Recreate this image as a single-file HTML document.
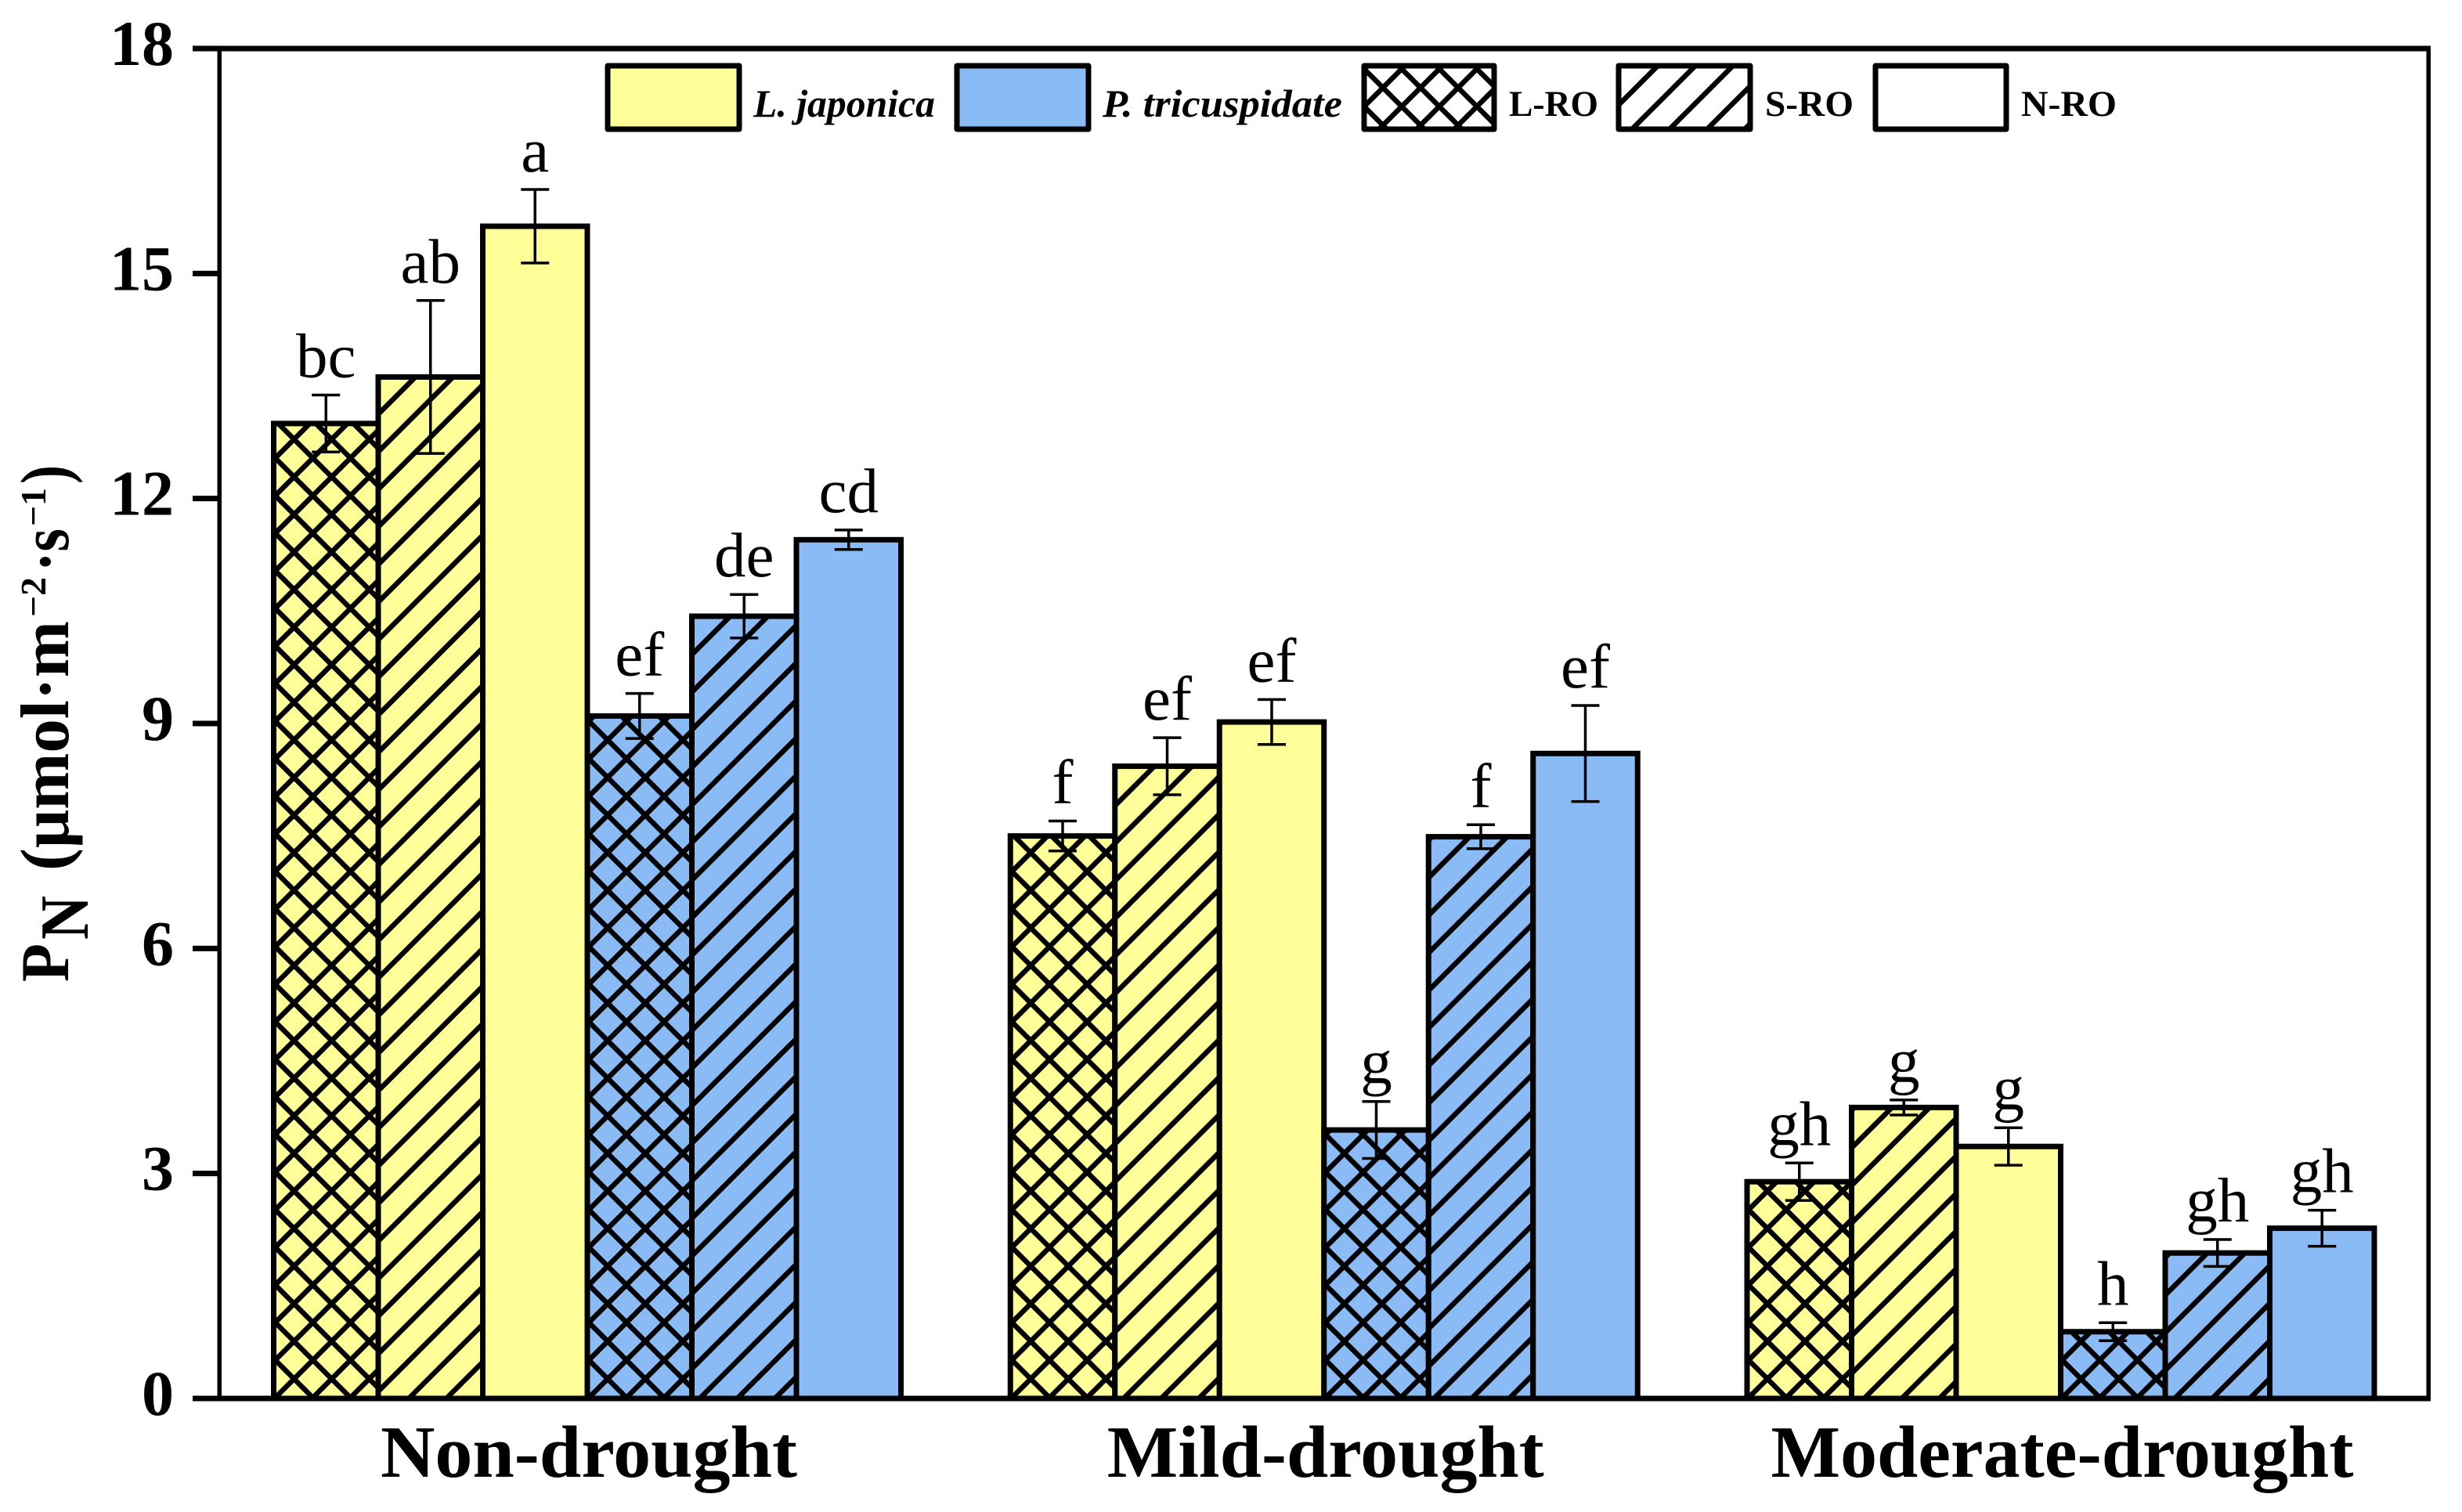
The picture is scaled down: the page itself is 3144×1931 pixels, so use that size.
<!DOCTYPE html>
<html lang="en">
<head>
<meta charset="utf-8">
<title>PN under drought treatments</title>
<style>
  html, body { margin: 0; padding: 0; background: #fff; }
  svg { display: block; }
  text { font-family: "Liberation Serif", serif; fill: #000; }
  .b { font-weight: bold; }
</style>
</head>
<body>
<svg id="chart" xmlns="http://www.w3.org/2000/svg" width="3144" height="1931" viewBox="0 0 3144 1931">
  <defs id="defs">
    <pattern id="legend-cross" patternUnits="userSpaceOnUse" width="48" height="48" patternTransform="translate(1766,160)">
      <path d="M0 48L48 0M-4 4L4 -4M44 52L52 44M0 0L48 48M44 -4L52 4M-4 44L4 52" stroke="#000" stroke-width="6.5" fill="none"/>
    </pattern>
    <pattern id="legend-diag" patternUnits="userSpaceOnUse" width="48" height="48" patternTransform="translate(2089,160)">
      <path d="M0 48L48 0M-4 4L4 -4M44 52L52 44" stroke="#000" stroke-width="6.5" fill="none"/>
    </pattern>
  </defs>
  <rect width="3144" height="1931" fill="#fff"/>

  <g id="bars"></g>
  <g id="errors"></g>
  <g id="letters"></g>

  <g id="axes" fill="#000">
    <rect x="277.5" y="62" width="5.5" height="1724"/>
    <rect x="3098.5" y="62" width="5.5" height="1724"/>
    <rect x="246" y="58.5" width="2858" height="7"/>
    <rect x="246" y="1782.5" width="2858" height="7"/>
  </g>
  <g id="yticks"></g>
  <g id="xlabels"></g>

  <g>
    <text class="b" font-size="88" transform="translate(87,1254) rotate(-90)" textLength="49" lengthAdjust="spacingAndGlyphs">P</text>
    <text class="b" font-size="88" transform="translate(112,1200) rotate(-90)" textLength="56" lengthAdjust="spacingAndGlyphs">N</text>
    <text class="b" font-size="88" transform="translate(87,1112) rotate(-90)" textLength="319" lengthAdjust="spacingAndGlyphs">(μmol·m</text>
    <text class="b" font-size="46" transform="translate(58,788) rotate(-90)" textLength="51" lengthAdjust="spacingAndGlyphs">−2</text>
    <text class="b" font-size="88" transform="translate(87,730) rotate(-90)" textLength="55" lengthAdjust="spacingAndGlyphs">·s</text>
    <text class="b" font-size="46" transform="translate(58,672) rotate(-90)" textLength="49" lengthAdjust="spacingAndGlyphs">−1</text>
    <text class="b" font-size="88" transform="translate(87,618) rotate(-90)" textLength="24" lengthAdjust="spacingAndGlyphs">)</text>
  </g>

  <g>
    <g>
      <rect x="776" y="84" width="168" height="81" fill="#FFFF99" stroke="#000" stroke-width="7" stroke-linejoin="round"/>
      <text class="b" font-style="italic" font-size="50" x="962" y="149" textLength="232" lengthAdjust="spacingAndGlyphs">L. japonica</text>
    </g>
    <g>
      <rect x="1222" y="84" width="168" height="81" fill="#8BBBF5" stroke="#000" stroke-width="7" stroke-linejoin="round"/>
      <text class="b" font-style="italic" font-size="50" x="1408" y="149" textLength="306" lengthAdjust="spacingAndGlyphs">P. tricuspidate</text>
    </g>
    <g>
      <rect x="1742" y="84" width="166" height="81" fill="#fff"/>
      <rect x="1742" y="84" width="166" height="81" fill="url(#legend-cross)" stroke="#000" stroke-width="7" stroke-linejoin="round"/>
      <text class="b" font-size="47" x="1927" y="148" textLength="114" lengthAdjust="spacingAndGlyphs">L-RO</text>
    </g>
    <g>
      <rect x="2067" y="84" width="168" height="81" fill="url(#legend-diag)" stroke="#000" stroke-width="7" stroke-linejoin="round"/>
      <text class="b" font-size="47" x="2254" y="148" textLength="113" lengthAdjust="spacingAndGlyphs">S-RO</text>
    </g>
    <g>
      <rect x="2395" y="84" width="167" height="81" fill="#fff" stroke="#000" stroke-width="7" stroke-linejoin="round"/>
      <text class="b" font-size="47" x="2581" y="148" textLength="122" lengthAdjust="spacingAndGlyphs">N-RO</text>
    </g>
  </g>
</svg>
<script>
// ---- chart data ----
const groupLabels = ["Non-drought", "Mild-drought", "Moderate-drought"];
const yTicks = [0, 3, 6, 9, 12, 15, 18];

const ljLroMeans = [13.0, 7.5, 2.89];
const ljSroMeans = [13.62, 8.43, 3.88];
const ljNroMeans = [15.63, 9.02, 3.36];
const ptLroMeans = [9.1, 3.58, 0.89];
const ptSroMeans = [10.43, 7.49, 1.94];
const ptNroMeans = [11.45, 8.6, 2.27];

const ljLroErrors = [0.38, 0.2, 0.25];
const ljSroErrors = [1.02, 0.38, 0.1];
const ljNroErrors = [0.49, 0.3, 0.25];
const ptLroErrors = [0.3, 0.38, 0.12];
const ptSroErrors = [0.29, 0.16, 0.18];
const ptNroErrors = [0.13, 0.64, 0.24];

const ljLroLetters = ["bc", "f", "gh"];
const ljSroLetters = ["ab", "ef", "g"];
const ljNroLetters = ["a", "ef", "g"];
const ptLroLetters = ["ef", "g", "h"];
const ptSroLetters = ["de", "f", "gh"];
const ptNroLetters = ["cd", "ef", "gh"];

// ---- layout ----
const NS = "http://www.w3.org/2000/svg";
const baseY = 1786;
const unitPx = 95.78;
const barW = 133.5;
const firstLeft = 349.5;
const groupStep = 940.75;
const yScale = v => baseY - v * unitPx;
const xScale = (g, s) => firstLeft + g * groupStep + s * barW;

const YELLOW = "#FFFF99";
const BLUE = "#8BBBF5";
const seriesList = [
  { key: "lj-lro", means: ljLroMeans, errors: ljLroErrors, letters: ljLroLetters, color: YELLOW, hatch: "cross" },
  { key: "lj-sro", means: ljSroMeans, errors: ljSroErrors, letters: ljSroLetters, color: YELLOW, hatch: "diag", shift: [40, 12, 17] },
  { key: "lj-nro", means: ljNroMeans, errors: ljNroErrors, letters: ljNroLetters, color: YELLOW, hatch: null },
  { key: "pt-lro", means: ptLroMeans, errors: ptLroErrors, letters: ptLroLetters, color: BLUE, hatch: "cross" },
  { key: "pt-sro", means: ptSroMeans, errors: ptSroErrors, letters: ptSroLetters, color: BLUE, hatch: "diag", shift: [11, 8, 13] },
  { key: "pt-nro", means: ptNroMeans, errors: ptNroErrors, letters: ptNroLetters, color: BLUE, hatch: null }
];
const xLabelWidths = [532, 558, 744];

function make(tag, attrs) {
  const node = document.createElementNS(NS, tag);
  for (const k in attrs) node.setAttribute(k, attrs[k]);
  return node;
}

const defs = document.getElementById("defs");
const barsG = document.getElementById("bars");
const errG = document.getElementById("errors");
const lettersG = document.getElementById("letters");
const tickG = document.getElementById("yticks");
const xlabG = document.getElementById("xlabels");

groupLabels.forEach((label, g) => {
  seriesList.forEach((s, i) => {
    const left = xScale(g, i);
    const mean = s.means[g];
    const err = s.errors[g];
    const top = yScale(mean);
    const cx = left + barW / 2;

    const fill = make("rect", { x: left, y: top, width: barW, height: baseY - top, fill: s.color });
    
    
    barsG.appendChild(fill);

    if (s.hatch) {
      const id = "hatch-" + s.key + "-" + g;
      const shift = s.hatch === "cross" ? 2 : s.shift[g];
      const pat = make("pattern", {
        id: id, patternUnits: "userSpaceOnUse", width: 48, height: 48,
        patternTransform: "translate(" + (left + shift) + "," + (baseY - 1) + ")"
      });
      
      
      const d = s.hatch === "cross"
        ? "M0 48L48 0M-4 4L4 -4M44 52L52 44M0 0L48 48M44 -4L52 4M-4 44L4 52"
        : "M0 48L48 0M-4 4L4 -4M44 52L52 44";
      pat.appendChild(make("path", { d: d, stroke: "#000", "stroke-width": 6.5, fill: "none" }));
      defs.appendChild(pat);
      const hatch = make("rect", { x: left, y: top, width: barW, height: baseY - top, fill: "url(#" + id + ")" });
      
      
      barsG.appendChild(hatch);
    }

    const outline = make("rect", { x: left, y: top, width: barW, height: baseY - top, fill: "none", stroke: "#000", "stroke-width": 7 });
    
    
    barsG.appendChild(outline);

    const yHi = yScale(mean + err);
    const yLo = yScale(mean - err);
    const stem = make("line", { x1: cx, x2: cx, y1: yHi, y2: yLo, stroke: "#000", "stroke-width": 3.5 });
    
    
    errG.appendChild(stem);
    const capTop = make("line", { x1: cx - 18, x2: cx + 18, y1: yHi, y2: yHi, stroke: "#000", "stroke-width": 3.5 });
    
    
    errG.appendChild(capTop);
    const capBot = make("line", { x1: cx - 18, x2: cx + 18, y1: yLo, y2: yLo, stroke: "#000", "stroke-width": 3.5 });
    
    
    errG.appendChild(capBot);

    const letter = make("text", { x: cx, y: yHi - 23, "font-size": 81, "text-anchor": "middle" });
    
    
    letter.textContent = s.letters[g];
    lettersG.appendChild(letter);
  });

  const lab = make("text", {
    x: xScale(g, 3) + 2, y: 1886, "font-size": 94, "text-anchor": "middle", "class": "b",
    textLength: xLabelWidths[g], lengthAdjust: "spacingAndGlyphs"
  });
  
  
  lab.textContent = label;
  xlabG.appendChild(lab);
});

yTicks.forEach(t => {
  const y = yScale(t);
  const mark = make("rect", { x: 246, y: y - 3.5, width: 34, height: 7, fill: "#000" });
  
  
  tickG.appendChild(mark);
  const txt = make("text", { x: 222, y: y + 21, "font-size": 82, "text-anchor": "end", "class": "b" });
  
  
  txt.textContent = String(t);
  tickG.appendChild(txt);
});
</script>
</body>
</html>
